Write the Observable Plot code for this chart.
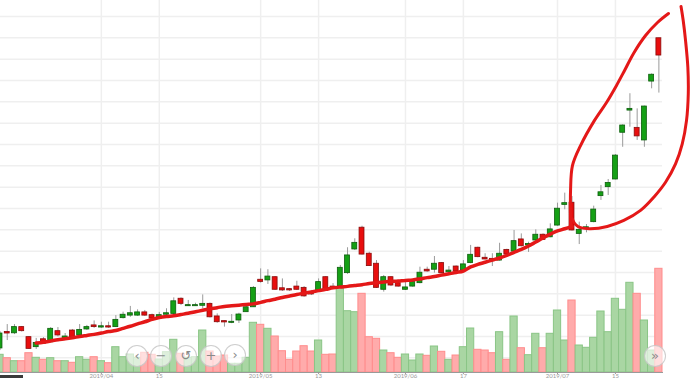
<!DOCTYPE html>
<html>
<head>
<meta charset="utf-8">
<script src="https://cdn.jsdelivr.net/npm/d3@7"></script>
<script src="https://cdn.jsdelivr.net/npm/@observablehq/plot@0.6"></script>
<style>
html, body { margin: 0; padding: 0; background: #fff; }
#chart { position: relative; width: 690px; height: 379px; overflow: hidden; font-family: Lato, "DejaVu Sans", sans-serif; }
#chart svg { position: absolute; left: 0; top: 0; }
.nav { position: absolute; width: 20px; height: 20px; border-radius: 50%; background: rgba(255,255,255,0.62); border: 1px solid rgba(190,190,190,0.75); color: #8a8a8a; font-size: 13px; line-height: 20px; text-align: center; font-family: "DejaVu Sans", sans-serif; }
.scroll { position: absolute; left: 0; top: 375px; width: 23px; height: 3px; background: #3a3a3a; }
</style>
</head>
<body>
<div id="chart"></div>
<script>
// ---- data ----
const openV = [2.44,3.21,3.15,3.44,2.97,2.50,2.87,2.73,3.25,2.86,
3.28,3.05,3.33,3.52,3.42,3.48,3.44,3.86,3.98,3.98,
4.13,4.00,3.84,4.02,4.06,4.77,4.42,4.42,4.44,4.53,
3.94,3.72,3.64,3.75,4.14,4.37,5.66,5.63,5.78,5.26,
5.22,5.34,5.28,5.03,5.16,5.78,5.34,5.34,5.97,7.08,
8.10,6.88,6.41,5.19,5.78,5.50,5.19,5.34,5.50,6.13,
6.13,6.44,6.01,6.28,6.09,6.44,7.16,6.69,6.64,6.56,
7.06,6.98,7.55,7.27,7.50,7.77,7.65,8.20,9.17,9.27,
7.81,8.05,8.36,9.58,10.00,10.36,12.55,13.59,12.78,12.19,
14.95,16.98];
const closeV = [3.14,3.14,3.44,3.25,2.42,2.70,2.66,3.36,3.05,3.00,
2.97,3.31,3.44,3.44,3.48,3.42,3.78,4.02,4.09,4.13,
3.98,3.84,4.00,4.09,4.65,4.53,4.47,4.47,4.53,3.90,
3.67,3.66,3.69,4.03,4.37,5.28,5.56,5.81,5.19,5.16,
5.16,5.19,4.88,4.97,5.55,5.19,5.28,6.22,6.80,7.39,
6.84,6.30,5.28,5.78,5.39,5.34,5.30,5.55,5.99,6.05,
6.41,5.97,6.09,6.05,6.38,6.83,6.72,6.61,6.53,6.88,
6.84,7.47,7.23,7.34,7.77,7.53,8.02,8.99,9.25,7.97,
8.00,8.12,8.95,9.76,10.20,11.48,12.89,13.67,12.38,13.78,
15.27,16.17];
const highV = [3.23,3.56,3.56,3.47,3.00,2.91,2.95,3.42,3.42,3.14,
3.33,3.56,3.52,3.73,3.67,3.67,3.98,4.14,4.41,4.25,
4.22,4.05,4.13,4.30,4.81,4.81,4.69,4.56,4.95,4.57,
4.06,3.73,4.03,4.09,4.45,5.34,6.17,6.13,5.81,5.70,
5.25,5.59,5.34,5.16,5.70,5.81,5.48,6.33,7.16,7.58,
8.17,6.95,6.56,5.86,5.81,5.58,5.55,5.63,6.25,6.25,
6.75,6.47,6.28,6.31,6.56,7.27,7.19,6.88,6.88,7.37,
7.09,7.97,7.81,7.42,8.00,7.81,8.28,9.25,9.72,9.56,
8.36,8.25,9.11,10.08,10.36,11.53,12.92,14.38,13.67,13.80,
15.31,16.98];
const lowV = [2.34,2.81,3.09,3.21,2.39,2.39,2.63,2.72,2.98,2.81,
2.93,3.00,3.28,3.38,3.38,3.38,3.42,3.82,3.90,3.94,
3.94,3.82,3.80,3.98,4.03,4.45,4.41,4.41,4.30,3.87,
3.62,3.44,3.60,3.61,4.13,4.36,5.50,5.44,5.16,5.11,
5.11,5.16,4.84,4.92,5.11,5.16,5.25,5.30,5.91,7.03,
6.82,6.28,5.25,5.08,5.34,5.31,5.16,5.31,5.47,6.01,
5.97,5.95,6.00,6.01,6.06,6.41,6.69,6.59,6.28,6.53,
6.81,6.95,7.20,6.94,7.47,7.50,7.63,8.17,8.94,7.94,
7.31,7.86,8.33,9.38,9.61,10.34,11.87,12.81,12.19,11.87,
14.61,14.41];
const volume = [1.77,1.43,1.13,1.13,1.93,1.47,1.27,1.43,1.13,1.13,
0.97,1.53,1.27,1.53,1.13,0.93,2.53,1.53,1.80,1.47,
1.97,1.77,1.30,2.03,3.27,1.87,1.47,1.53,4.20,2.10,
1.60,1.70,0.87,0.87,1.47,4.97,4.77,4.37,3.60,2.13,
1.27,2.10,2.63,2.10,3.20,1.77,1.80,8.37,6.13,6.03,
7.87,3.53,3.37,2.20,1.93,1.47,1.80,1.20,1.80,1.67,
2.60,2.07,1.27,1.70,2.53,4.40,2.27,2.20,1.93,4.03,
1.27,5.60,2.43,1.73,3.87,2.43,3.87,6.20,3.20,7.20,
2.70,2.47,3.47,6.10,4.03,7.37,6.27,8.97,7.87,5.20,
2.20,10.37];
// moving average, starting at candle 5
const maStart = 5;
const maValues = [2.69,2.73,2.79,2.85,2.89,
2.94,3.00,3.05,3.10,3.16,3.23,3.28,3.38,3.48,3.59,
3.69,3.80,3.89,3.94,3.97,4.03,4.09,4.16,4.23,4.30,
4.35,4.41,4.44,4.47,4.50,4.53,4.60,4.68,4.75,4.83,
4.90,4.97,5.03,5.09,5.15,5.21,5.28,5.32,5.35,5.39,
5.43,5.48,5.52,5.56,5.58,5.60,5.63,5.65,5.70,5.76,
5.81,5.88,5.94,6.00,6.07,6.26,6.38,6.48,6.58,6.68,
6.80,6.94,7.08,7.24,7.43,7.62,7.80,7.95,8.05,8.16];
// hand-drawn highlight loop (two strokes), in candle-index / price units
const loopA_i = [78.80,78.80,78.80,79.07,80.18,82.11,83.77,85.15,86.26,87.50,89.16,90.81,92.33];
const loopA_v = [8.16,8.44,9.84,11.02,11.95,13.13,13.97,14.77,15.47,16.27,17.11,17.72,18.14];
const loopB_i = [94.06,94.36,94.68,95.00,95.06,94.82,94.23,93.30,91.92,90.30,88.47,86.16,83.87,81.56,80.18,79.49,79.03];
const loopB_v = [18.47,17.81,16.88,15.62,14.38,13.13,12.03,11.09,10.23,9.53,8.91,8.44,8.16,8.05,8.10,8.25,8.52];
// axes / grid
const priceGrid = [2,3,4,5,6,7,8,9,10,11,12,13,14,15,16,17,18];
const xTickIdx = [14, 22, 36, 44, 56, 64, 77, 85];
const xTickLabels = ["2019/04", "15", "2019/05", "13", "2019/06", "17", "2019/07", "15"];

// ---- build tables ----
const candles = openV.map((o, i) => ({
  i, open: o, close: closeV[i], high: highV[i], low: lowV[i], vol: volume[i], up: closeV[i] >= o
}));
const ma = maValues.map((v, k) => ({i: maStart + k, v}));
const loop = [
  ...loopA_i.map((i, k) => ({i, v: loopA_v[k], part: "a"})),
  ...loopB_i.map((i, k) => ({i, v: loopB_v[k], part: "b"}))
];

const common = {width: 690, height: 379, marginLeft: 0, marginRight: 28, marginTop: 0, marginBottom: 7};
const xDomain = [0.069, 91.5];
const priceDomain = [1.3125, 18.75];

const gridPlot = Plot.plot({
  ...common,
  style: {background: "#fff"},
  x: {type: "linear", domain: xDomain, axis: null},
  y: {domain: priceDomain, axis: null},
  marks: [
    Plot.ruleY(priceGrid, {stroke: "#efefef", strokeWidth: 1.5}),
    Plot.ruleX(xTickIdx, {stroke: "#efefef", strokeWidth: 1.5})
  ]
});

const volPlot = Plot.plot({
  ...common,
  style: {background: "transparent"},
  x: {type: "linear", domain: xDomain, axis: null},
  y: {domain: [0, 37.2], axis: null},
  color: {type: "identity"},
  marks: [
    Plot.rect(candles, {
      x1: d => d.i - 0.5, x2: d => d.i + 0.5, y1: 0, y2: "vol",
      fill: d => d.up ? "#a9d6a3" : "#ffabab",
      stroke: d => d.up ? "#8ac586" : "#ff8d8d",
      strokeWidth: 1
    })
  ]
});

const pricePlot = Plot.plot({
  ...common,
  style: {background: "transparent", color: "#9a9a9a", fontSize: "6px", fontFamily: "Lato, 'DejaVu Sans', sans-serif", overflow: "visible"},
  x: {type: "linear", domain: xDomain, ticks: xTickIdx, tickFormat: d => xTickLabels[xTickIdx.indexOf(d)], tickSize: 2, tickPadding: -0.5, line: true, label: null},
  y: {domain: priceDomain, axis: null},
  color: {type: "identity"},
  marks: [
    Plot.ruleX(candles, {x: "i", y1: "low", y2: "high", stroke: "#9a9a9a", strokeWidth: 1}),
    Plot.rect(candles, {
      x1: d => d.i - 0.34, x2: d => d.i + 0.34, y1: "open", y2: "close",
      fill: d => d.up ? "#15a015" : "#e80e0e",
      stroke: d => d.up ? "#0c5e0c" : "#8a0b0b",
      strokeWidth: 0.8
    }),
    Plot.line(ma, {x: "i", y: "v", stroke: "#e41818", strokeWidth: 3.5, curve: "catmull-rom"}),
    Plot.line(loop, {x: "i", y: "v", z: "part", stroke: "#e41818", strokeWidth: 3, curve: "catmull-rom", strokeLinecap: "round"})
  ]
});

const chart = document.getElementById("chart");
chart.append(gridPlot, volPlot, pricePlot);

// navigator UI overlay (not data)
const navButtons = [["‹", 137, 356], ["−", 161, 356], ["↺", 186, 356], ["+", 211, 356], ["›", 235, 355], ["»", 655, 356]];
for (const [sym, cx, cy] of navButtons) {
  const b = document.createElement("div");
  b.className = "nav";
  b.textContent = sym;
  b.style.left = (cx - 11) + "px";
  b.style.top = (cy - 11) + "px";
  chart.append(b);
}
const sc = document.createElement("div");
sc.className = "scroll";
chart.append(sc);
</script>
</body>
</html>
